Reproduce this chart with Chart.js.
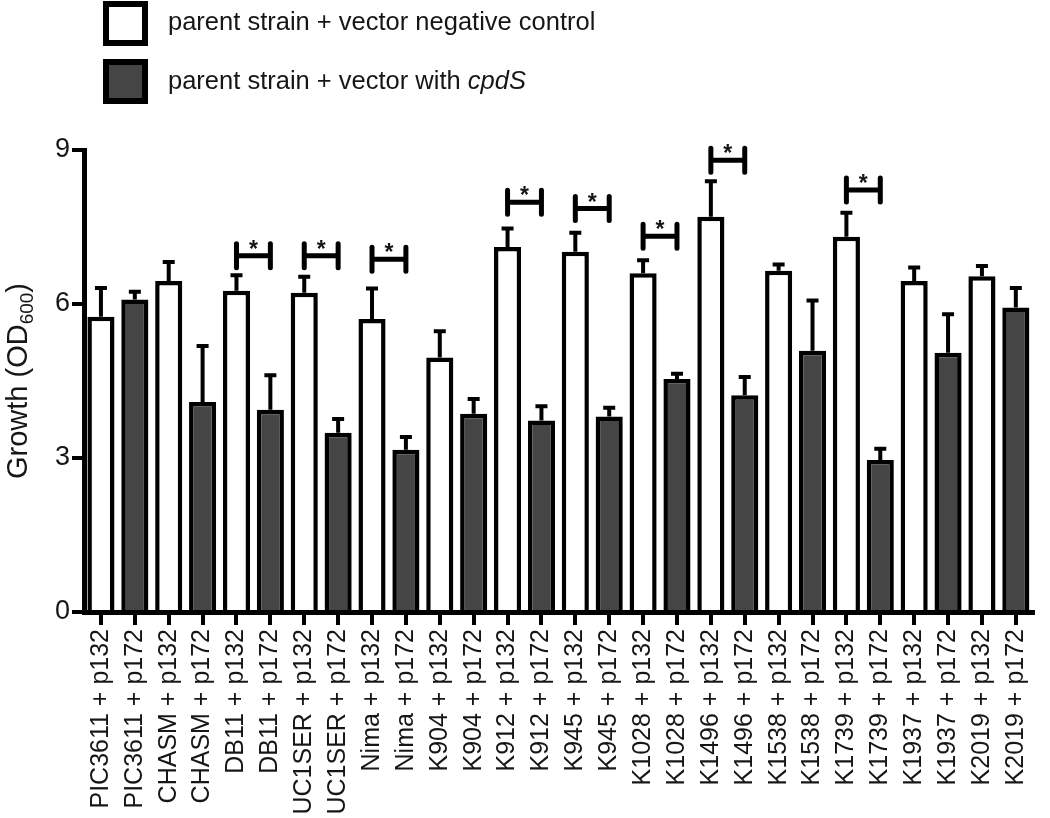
<!DOCTYPE html>
<html>
<head>
<meta charset="utf-8">
<title>cpdS growth</title>
<script src="https://cdn.jsdelivr.net/npm/chart.js@4.4.1/dist/chart.umd.min.js"></script>
<style>
  html, body { margin: 0; padding: 0; background: #fff; }
  #wrap { width: 1050px; height: 818px; }
</style>
</head>
<body>
<div id="wrap"><canvas id="growthChart" width="1050" height="818"></canvas></div>
<script>
// strains and vectors
const strains = ['PIC3611', 'CHASM', 'DB11', 'UC1SER', 'Nima', 'K904', 'K912', 'K945',
                 'K1028', 'K1496', 'K1538', 'K1739', 'K1937', 'K2019'];
const vectors = ['p132', 'p172'];

// growth (OD600), mean and upper error
const p132Values = [5.75, 6.45, 6.26, 6.22, 5.71, 4.96, 7.11, 7.02, 6.60, 7.70, 6.65, 7.31, 6.45, 6.54];
const p132Errors = [0.56, 0.37, 0.30, 0.31, 0.59, 0.51, 0.36, 0.37, 0.25, 0.69, 0.12, 0.47, 0.26, 0.20];
const p172Values = [6.09, 4.09, 3.94, 3.49, 3.16, 3.86, 3.73, 3.81, 4.54, 4.22, 5.09, 2.96, 5.05, 5.93];
const p172Errors = [0.15, 1.09, 0.67, 0.27, 0.25, 0.29, 0.28, 0.17, 0.10, 0.36, 0.98, 0.22, 0.75, 0.38];

// significance brackets
const sigStrains = ['DB11', 'UC1SER', 'Nima', 'K912', 'K945', 'K1028', 'K1496', 'K1739'];
const sigHeights = [6.94, 6.94, 6.87, 7.98, 7.86, 7.32, 8.80, 8.22];

const yTicks = [0, 3, 6, 9];

const FONT = '"Liberation Sans", Arial, Helvetica, sans-serif';
const INK = '#161616';
const DARK = '#454545';

// build labels and interleaved data
const labels = [];
const data132 = [], data172 = [], err132 = [], err172 = [];
strains.forEach((s, i) => {
    vectors.forEach(v => labels.push(s + ' + ' + v));
    data132.push(p132Values[i], null);
    err132.push(p132Errors[i], null);
    data172.push(null, p172Values[i]);
    err172.push(null, p172Errors[i]);
});

// error bars (upper only)
const errorBarPlugin = {
    id: 'errorBars',
    afterDatasetsDraw(chart) {
        const ctx = chart.ctx;
        const yScale = chart.scales.y;
        const errs = [err132, err172];
        ctx.save();
        ctx.strokeStyle = '#000';
        ctx.lineWidth = 4;
        chart.data.datasets.forEach((ds, di) => {
            const meta = chart.getDatasetMeta(di);
            meta.data.forEach((bar, i) => {
                if (ds.data[i] == null) return;
                const yTop = yScale.getPixelForValue(ds.data[i] + errs[di][i]);
                ctx.beginPath();
                ctx.moveTo(bar.x, bar.y);
                ctx.lineTo(bar.x, yTop);
                ctx.moveTo(bar.x - 6, yTop);
                ctx.lineTo(bar.x + 6, yTop);
                ctx.stroke();
            });
        });
        ctx.restore();
    }
};

// significance brackets with asterisk
const bracketPlugin = {
    id: 'brackets',
    afterDatasetsDraw(chart) {
        const ctx = chart.ctx;
        const yScale = chart.scales.y;
        const m0 = chart.getDatasetMeta(0), m1 = chart.getDatasetMeta(1);
        ctx.save();
        ctx.strokeStyle = '#000';
        ctx.lineWidth = 5;
        ctx.lineCap = 'round';
        sigStrains.forEach((s, k) => {
            const idx = strains.indexOf(s);
            const x1 = m0.data[idx * 2].x;
            const x2 = m1.data[idx * 2 + 1].x;
            const y = yScale.getPixelForValue(sigHeights[k]);
            ctx.beginPath();
            ctx.moveTo(x1, y); ctx.lineTo(x2, y);
            ctx.moveTo(x1, y - 12); ctx.lineTo(x1, y + 12);
            ctx.moveTo(x2, y - 12); ctx.lineTo(x2, y + 12);
            ctx.stroke();
            ctx.fillStyle = INK;
            ctx.font = 'bold 23px ' + FONT;
            ctx.textAlign = 'center';
            ctx.textBaseline = 'alphabetic';
            ctx.fillText('*', (x1 + x2) / 2, y + 1);
        });
        ctx.restore();
    }
};

// y title with subscript, and legend at the top
const decorPlugin = {
    id: 'decor',
    afterDraw(chart) {
        const ctx = chart.ctx;
        const area = chart.chartArea;
        ctx.save();
        // y title
        ctx.fillStyle = INK;
        ctx.translate(27, (area.top + area.bottom) / 2);
        ctx.rotate(-Math.PI / 2);
        ctx.textBaseline = 'alphabetic';
        ctx.textAlign = 'left';
        const big = '29px ' + FONT, small = '19px ' + FONT;
        ctx.font = big;
        const a = 'Growth (OD', c = ')';
        const wA = ctx.measureText(a).width, wC = ctx.measureText(c).width;
        ctx.font = small;
        const wB = ctx.measureText('600').width;
        let x = -(wA + wB + wC) / 2;
        ctx.font = big; ctx.fillText(a, x, 0); x += wA;
        ctx.font = small; ctx.fillText('600', x, 6); x += wB;
        ctx.font = big; ctx.fillText(c, x, 0);
        ctx.restore();

        // legend
        ctx.save();
        ctx.lineWidth = 6;
        ctx.strokeStyle = '#000';
        ctx.fillStyle = '#fff';
        ctx.fillRect(106, 4, 39, 39);
        ctx.strokeRect(106, 4, 39, 39);
        ctx.fillStyle = DARK;
        ctx.fillRect(106, 62, 39, 39);
        ctx.strokeRect(106, 62, 39, 39);
        ctx.fillStyle = INK;
        ctx.textBaseline = 'middle';
        ctx.textAlign = 'left';
        ctx.font = '25.5px ' + FONT;
        ctx.fillText('parent strain + vector negative control', 168, 23);
        const t = 'parent strain + vector with ';
        ctx.fillText(t, 168, 82);
        const w = ctx.measureText(t).width;
        ctx.font = 'italic 25.5px ' + FONT;
        ctx.fillText('cpdS', 168 + w, 82);
        ctx.restore();
    }
};

new Chart(document.getElementById('growthChart'), {
    type: 'bar',
    data: {
        labels: labels,
        datasets: [
            {
                label: 'parent strain + vector negative control',
                data: data132,
                backgroundColor: '#ffffff',
                borderColor: '#000000',
                borderWidth: 4.5,
                grouped: false,
                categoryPercentage: 1,
                barPercentage: 0.8
            },
            {
                label: 'parent strain + vector with cpdS',
                data: data172,
                backgroundColor: DARK,
                borderColor: '#000000',
                borderWidth: 4.5,
                grouped: false,
                categoryPercentage: 1,
                barPercentage: 0.8
            }
        ]
    },
    options: {
        responsive: false,
        animation: false,
        devicePixelRatio: 1,
        layout: { padding: { top: 150, right: 10, left: 0, bottom: 0 } },
        plugins: {
            legend: { display: false },
            tooltip: { enabled: false }
        },
        scales: {
            x: {
                offset: true,
                grid: { offset: false, drawOnChartArea: false, drawTicks: true, tickLength: 13, lineWidth: 4, color: '#000' },
                border: { display: true, width: 5, color: '#000' },
                ticks: {
                    autoSkip: false, maxRotation: 90, minRotation: 90, padding: 4,
                    color: INK, font: { family: FONT, size: 25 }
                },
                afterFit(scale) { scale.height = 206; }
            },
            y: {
                min: 0,
                max: 9,
                afterBuildTicks(scale) { scale.ticks = yTicks.map(v => ({ value: v })); },
                grid: { drawOnChartArea: false, drawTicks: true, tickLength: 12, lineWidth: 4, color: '#000' },
                border: { display: true, width: 5, color: '#000' },
                ticks: { padding: 2, color: INK, font: { family: FONT, size: 27 } },
                afterFit(scale) { scale.width = 84; }
            }
        }
    },
    plugins: [errorBarPlugin, bracketPlugin, decorPlugin]
});
</script>
</body>
</html>
